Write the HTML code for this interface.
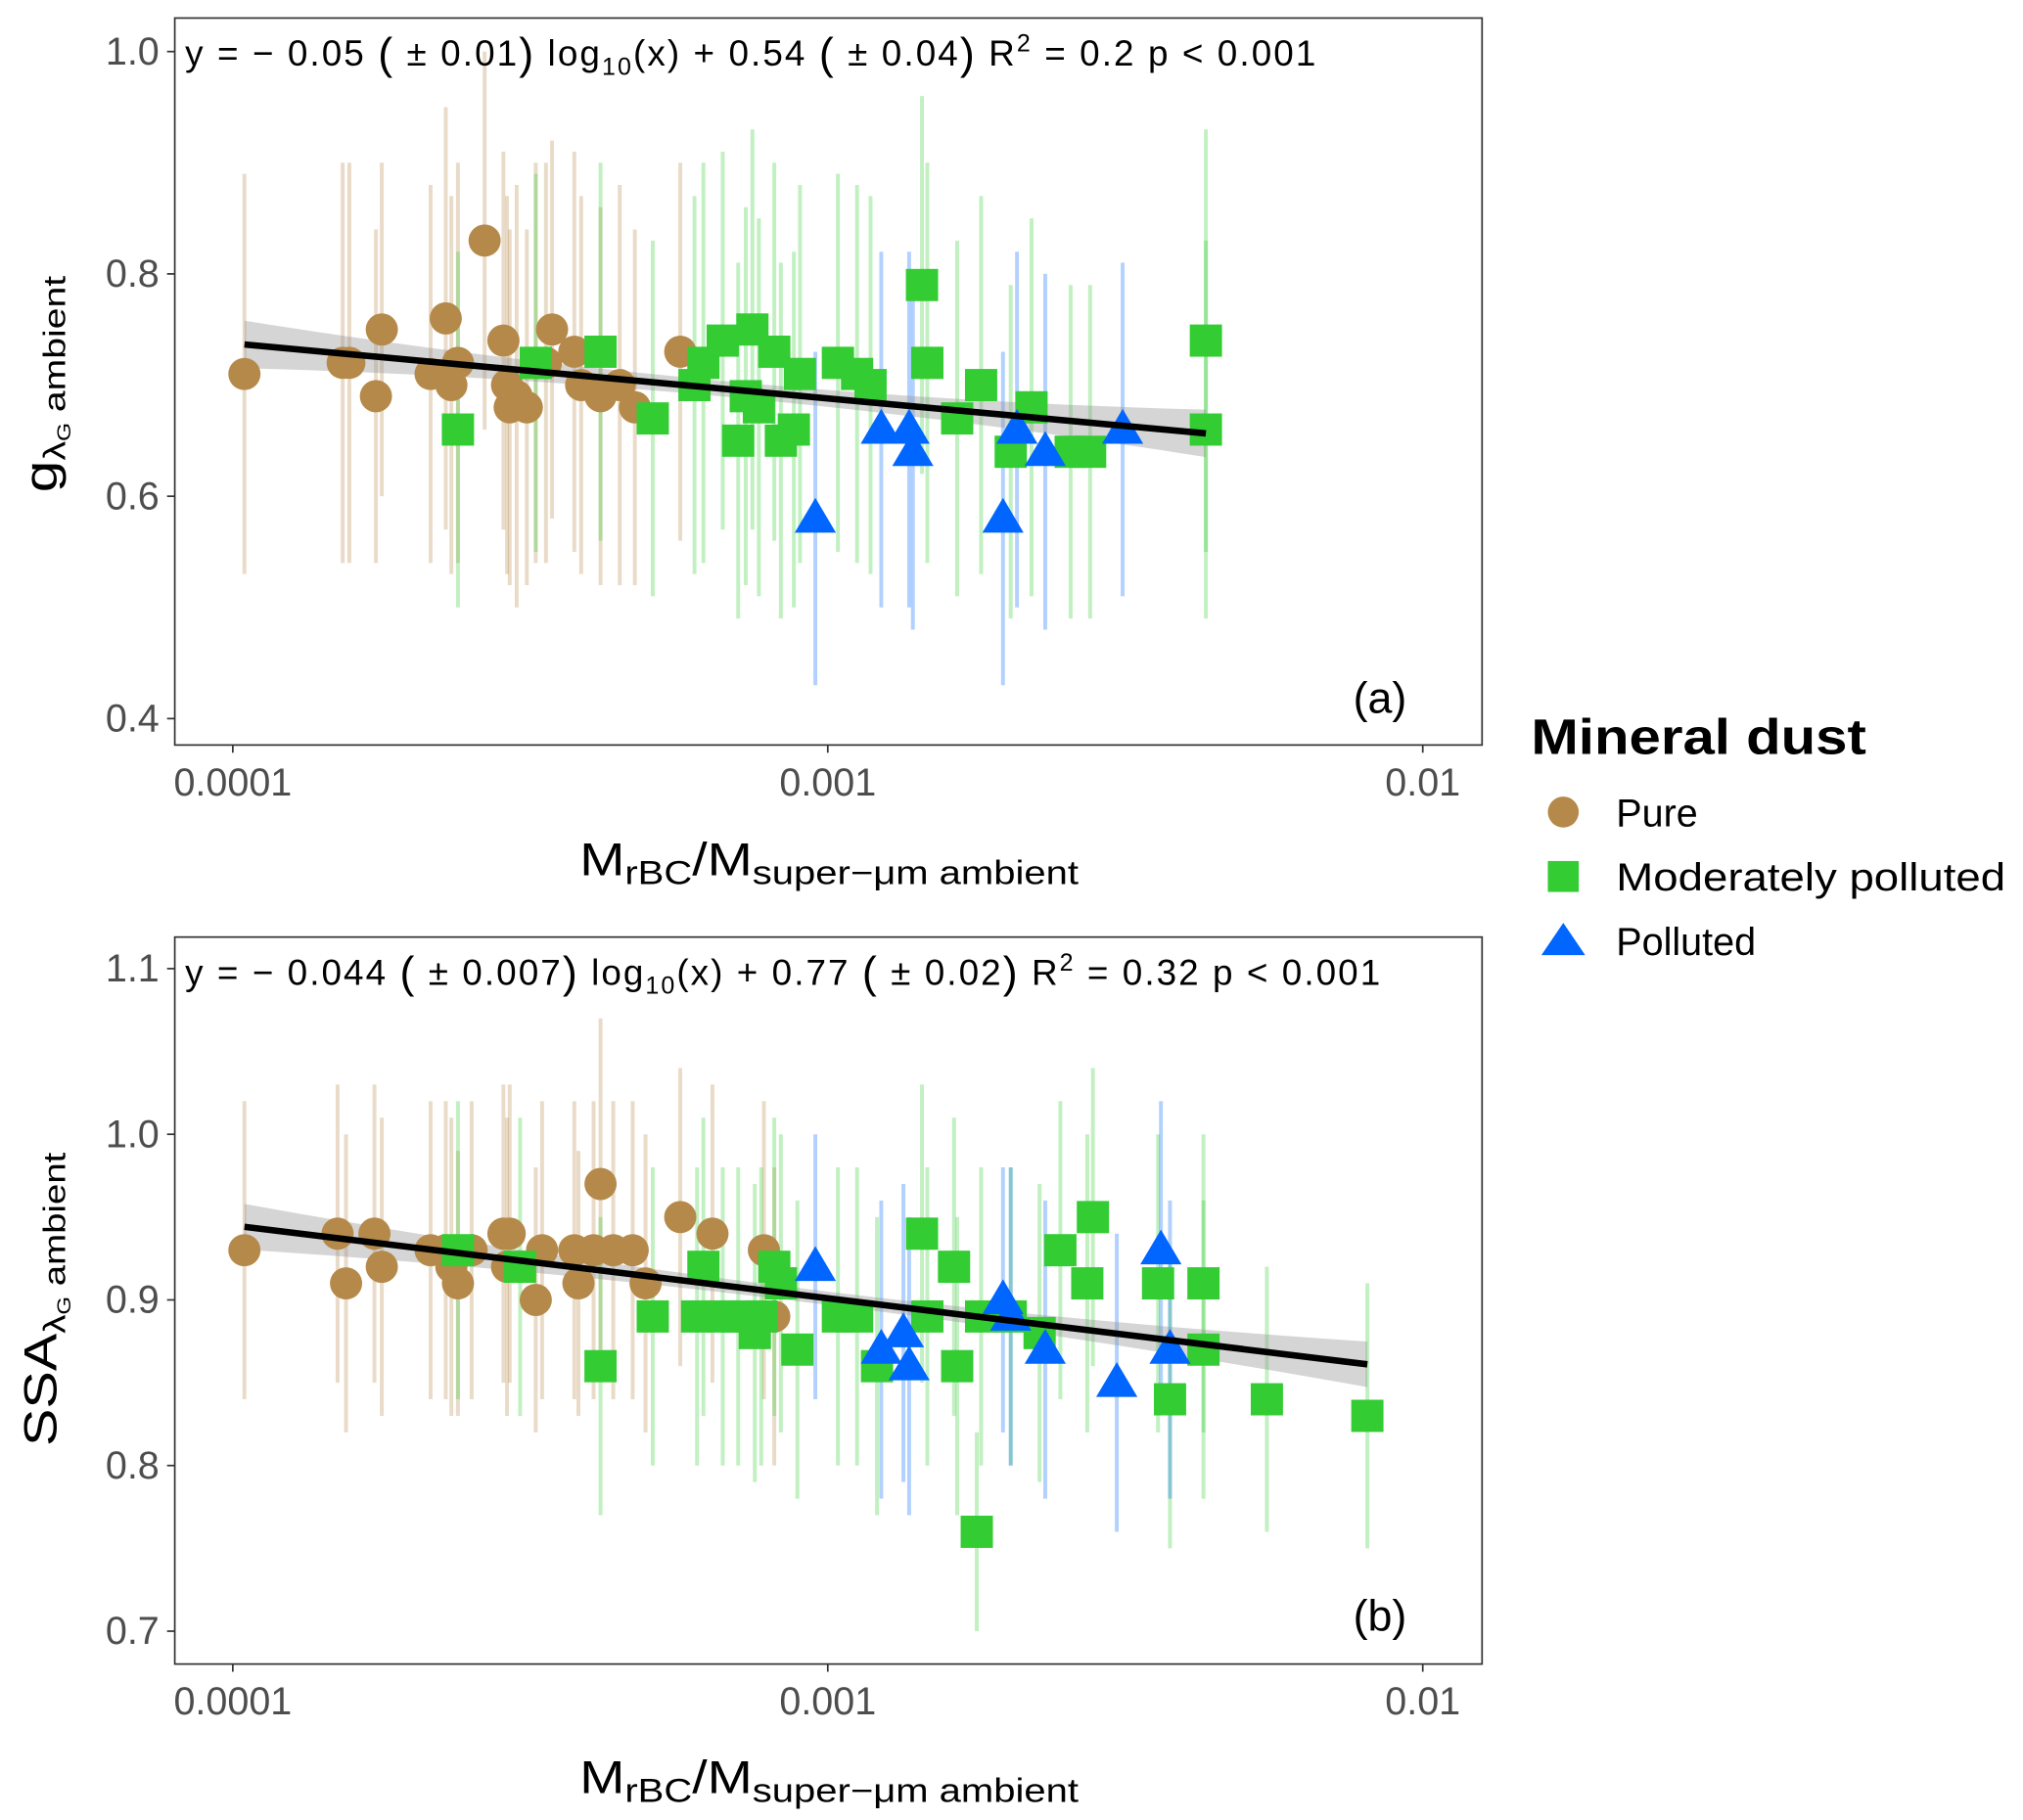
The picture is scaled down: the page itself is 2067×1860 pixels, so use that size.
<!DOCTYPE html>
<html><head><meta charset="utf-8"><style>
html,body{margin:0;padding:0;background:#fff}
svg{display:block}
text{font-family:"Liberation Sans",sans-serif}
</style></head><body>
<svg id="chart" width="2067" height="1860" viewBox="0 0 1568 1412" xmlns="http://www.w3.org/2000/svg">
<g id="panelA"></g>
<g id="panelB"></g>
<g id="legend">
  <text x="1187" y="585" font-size="39" font-weight="bold" textLength="260" lengthAdjust="spacingAndGlyphs">Mineral dust</text>
  <circle cx="1212" cy="630" r="12" fill="#B5894A"/>
  <text x="1253" y="641" font-size="30">Pure</text>
  <rect x="1200" y="668" width="24" height="24" fill="#33CC33"/>
  <text x="1253" y="691" font-size="30" textLength="302" lengthAdjust="spacingAndGlyphs">Moderately polluted</text>
  <polygon points="1212,716 1229,741 1195,741" fill="#0066FF"/>
  <text x="1253" y="741" font-size="30">Polluted</text>
</g>
</svg>
<script>
// Panel (a) data
const aPureX=[1.046e-4,1.53e-4,1.57e-4,1.74e-4,1.78e-4,2.15e-4,2.28e-4,2.33e-4,2.39e-4,2.65e-4,2.85e-4,2.89e-4,2.92e-4,3.0e-4,3.12e-4,3.23e-4,3.36e-4,3.44e-4,3.75e-4,3.85e-4,4.15e-4,4.47e-4,4.74e-4,5.65e-4];
const aPureY=[0.71,0.72,0.72,0.69,0.75,0.71,0.76,0.70,0.72,0.83,0.74,0.70,0.68,0.69,0.68,0.72,0.72,0.75,0.73,0.70,0.69,0.70,0.68,0.73];
const aPureE=[0.18,0.18,0.18,0.15,0.15,0.17,0.19,0.17,0.18,0.17,0.17,0.17,0.16,0.19,0.16,0.18,0.18,0.17,0.18,0.17,0.17,0.18,0.16,0.17];
const aModX=[2.39e-4,3.23e-4,4.15e-4,5.08e-4,5.97e-4,6.18e-4,6.66e-4,7.07e-4,7.28e-4,7.47e-4,7.66e-4,8.13e-4,8.34e-4,8.77e-4,8.98e-4,1.04e-3,1.12e-3,1.18e-3,1.44e-3,1.47e-3,1.65e-3,1.81e-3,2.03e-3,2.20e-3,2.56e-3,2.76e-3,4.32e-3,4.32e-3];
const aModY=[0.66,0.72,0.73,0.67,0.70,0.72,0.74,0.65,0.69,0.75,0.68,0.73,0.65,0.66,0.71,0.72,0.71,0.70,0.79,0.72,0.67,0.70,0.64,0.68,0.64,0.64,0.74,0.66];
const aModE=[0.16,0.17,0.17,0.16,0.17,0.18,0.17,0.16,0.17,0.18,0.17,0.17,0.16,0.16,0.17,0.17,0.17,0.17,0.17,0.18,0.16,0.17,0.15,0.17,0.15,0.15,0.19,0.17];
const aPolX=[9.53e-4,1.23e-3,1.37e-3,1.39e-3,1.97e-3,2.08e-3,2.32e-3,3.13e-3];
const aPolY=[0.58,0.66,0.66,0.64,0.58,0.66,0.64,0.66];
const aPolE=[0.15,0.16,0.16,0.16,0.15,0.16,0.16,0.15];
// Panel (b) data
const bPureX=[1.046e-4,1.50e-4,1.55e-4,1.73e-4,1.78e-4,2.15e-4,2.28e-4,2.33e-4,2.39e-4,2.52e-4,2.85e-4,2.89e-4,2.92e-4,3.23e-4,3.31e-4,3.75e-4,3.81e-4,4.15e-4,4.04e-4,4.36e-4,4.70e-4,4.94e-4,5.65e-4,6.40e-4,7.81e-4,8.13e-4];
const bPureY=[0.93,0.94,0.91,0.94,0.92,0.93,0.93,0.92,0.91,0.93,0.94,0.92,0.94,0.90,0.93,0.93,0.91,0.97,0.93,0.93,0.93,0.91,0.95,0.94,0.93,0.89];
const bPureE=[0.09,0.09,0.09,0.09,0.09,0.09,0.09,0.09,0.08,0.09,0.09,0.09,0.09,0.08,0.09,0.09,0.08,0.10,0.09,0.09,0.09,0.09,0.09,0.09,0.09,0.09];
const bModX=[2.39e-4,3.04e-4,4.15e-4,5.08e-4,6.03e-4,6.18e-4,6.66e-4,7.07e-4,7.54e-4,7.73e-4,8.13e-4,8.34e-4,8.89e-4,1.04e-3,1.12e-3,1.21e-3,1.44e-3,1.47e-3,1.63e-3,1.65e-3,1.78e-3,1.81e-3,2.03e-3,2.27e-3,2.46e-3,2.73e-3,2.79e-3,3.59e-3,3.76e-3,4.28e-3,4.28e-3,5.47e-3,8.07e-3];
const bModY=[0.93,0.92,0.86,0.89,0.89,0.92,0.89,0.89,0.88,0.89,0.92,0.91,0.87,0.89,0.89,0.86,0.94,0.89,0.92,0.86,0.76,0.89,0.89,0.88,0.93,0.91,0.95,0.91,0.84,0.91,0.87,0.84,0.83];
const bModE=[0.09,0.09,0.09,0.09,0.09,0.09,0.09,0.09,0.09,0.09,0.09,0.09,0.09,0.09,0.09,0.09,0.09,0.09,0.09,0.09,0.06,0.09,0.09,0.09,0.09,0.09,0.09,0.09,0.09,0.09,0.09,0.08,0.08];
const bPolX=[9.53e-4,1.23e-3,1.34e-3,1.37e-3,1.97e-3,2.03e-3,2.32e-3,3.06e-3,3.63e-3,3.76e-3];
const bPolY=[0.92,0.87,0.88,0.86,0.90,0.89,0.87,0.85,0.93,0.87];
const bPolE=[0.08,0.09,0.09,0.09,0.08,0.09,0.09,0.09,0.09,0.09];
const xTicks=[0.0001,0.001,0.01];
const xTickLabels=["0.0001","0.001","0.01"];
const aYTicks=[0.4,0.6,0.8,1.0];
const aYTickLabels=["0.4","0.6","0.8","1.0"];
const bYTicks=[0.7,0.8,0.9,1.0,1.1];
const bYTickLabels=["0.7","0.8","0.9","1.0","1.1"];
const aFit=[-0.0495,0.5395];
const bFit=[-0.044,0.769];

const NS="http://www.w3.org/2000/svg";
function mk(parent,tag,attrs){const e=document.createElementNS(NS,tag);for(const k in attrs)e.setAttribute(k,attrs[k]);parent.appendChild(e);return e;}
const xScale=v=>180+(Math.log10(v)+4)*461.5;
function drawPanel(g,cfg){
  const y=cfg.y;
  const box=mk(g,'rect',{x:135,y:cfg.top,width:1014,height:564,fill:'none',stroke:'#333',"stroke-width":1.3});
  
  
  const series=[
    {X:cfg.pX,Y:cfg.pY,E:cfg.pE,c:'rgba(181,137,74,0.3)',name:'pure'},
    {X:cfg.mX,Y:cfg.mY,E:cfg.mE,c:'rgba(51,204,51,0.3)',name:'moderate'},
    {X:cfg.lX,Y:cfg.lY,E:cfg.lE,c:'rgba(0,102,255,0.3)',name:'polluted'}];
  series.forEach(s=>{s.X.forEach((xv,i)=>{
    const l=mk(g,'line',{x1:xScale(xv),x2:xScale(xv),y1:y(s.Y[i]-s.E[i]),y2:y(s.Y[i]+s.E[i]),stroke:s.c,"stroke-width":3});
    
    
  });});
  const lo=Math.log10(cfg.xmin),hi=Math.log10(cfg.xmax),lm=(lo+hi)/2;
  let up=[],dn=[];
  for(let k=0;k<=40;k++){const L=lo+(hi-lo)*k/40;const f=cfg.fit[0]*L+cfg.fit[1];const h=cfg.h0+cfg.h1*(L-lm)*(L-lm);
    const px=180+(L+4)*461.5;up.push(px+','+y(f+h));dn.unshift(px+','+y(f-h));}
  const band=mk(g,'polygon',{points:up.concat(dn).join(' '),fill:'rgba(150,150,150,0.4)'});
  
  
  cfg.pX.forEach((xv,i)=>{const c=mk(g,'circle',{cx:xScale(xv),cy:y(cfg.pY[i]),r:12.5,fill:'#B5894A'});
    
    });
  cfg.mX.forEach((xv,i)=>{const c=mk(g,'rect',{x:xScale(xv)-12.5,y:y(cfg.mY[i])-12.5,width:25,height:25,fill:'#33CC33'});
    
    });
  cfg.lX.forEach((xv,i)=>{const cx=xScale(xv),cy=y(cfg.lY[i]);
    const c=mk(g,'polygon',{points:`${cx},${cy-16} ${cx+16},${cy+11} ${cx-16},${cy+11}`,fill:'#0066FF'});
    
    });
  const fl=mk(g,'line',{x1:xScale(cfg.xmin),y1:y(cfg.fit[0]*lo+cfg.fit[1]),x2:xScale(cfg.xmax),y2:y(cfg.fit[0]*hi+cfg.fit[1]),stroke:'#000',"stroke-width":5});
  
  
  const bot=cfg.top+564;
  xTicks.forEach((t,i)=>{const x=xScale(t);
    mk(g,'line',{x1:x,x2:x,y1:bot,y2:bot+6,stroke:'#333',"stroke-width":1.3});
    const tx=mk(g,'text',{x:x,y:bot+39,"font-size":30,fill:'#4d4d4d',"text-anchor":'middle'});tx.textContent=xTickLabels[i];
    
    });
  cfg.yt.forEach((t,i)=>{const yy=y(t);
    mk(g,'line',{x1:129,x2:135,y1:yy,y2:yy,stroke:'#333',"stroke-width":1.3});
    const tx=mk(g,'text',{x:123,y:yy+10,"font-size":30,fill:'#4d4d4d',"text-anchor":'end'});tx.textContent=cfg.ytl[i];
    
    });
}
const gA=document.getElementById('panelA'),gB=document.getElementById('panelB');
drawPanel(gA,{top:14,y:v=>40+(1.0-v)*862.5,pX:aPureX,pY:aPureY,pE:aPureE,mX:aModX,mY:aModY,mE:aModE,lX:aPolX,lY:aPolY,lE:aPolE,
  fit:aFit,xmin:1.046e-4,xmax:4.32e-3,h0:0.007,h1:0.022,yt:aYTicks,ytl:aYTickLabels});
drawPanel(gB,{top:727,y:v=>880+(1.0-v)*1285,pX:bPureX,pY:bPureY,pE:bPureE,mX:bModX,mY:bModY,mE:bModE,lX:bPolX,lY:bPolY,lE:bPolE,
  fit:bFit,xmin:1.046e-4,xmax:8.07e-3,h0:0.004,h1:0.011,yt:bYTicks,ytl:bYTickLabels});
</script>
<script>
const s=document.getElementById('chart');
s.insertAdjacentHTML('beforeend',`
<text x="143" y="51" font-size="28" textLength="877" lengthAdjust="spacing">y = − 0.05 <tspan font-size="34" dy="2">(</tspan><tspan dy="-2"> ± 0.01</tspan><tspan font-size="34" dy="2">)</tspan><tspan dy="-2"> log</tspan><tspan font-size="19" dy="7">10</tspan><tspan dy="-7">(x) + 0.54 </tspan><tspan font-size="34" dy="2">(</tspan><tspan dy="-2"> ± 0.04</tspan><tspan font-size="34" dy="2">)</tspan><tspan dy="-2"> R</tspan><tspan font-size="19" dy="-11">2</tspan><tspan dy="11"> = 0.2 p &lt; 0.001</tspan></text>
<text x="1049" y="553" font-size="34">(a)</text>
<text x="449" y="679" font-size="36" textLength="387" lengthAdjust="spacingAndGlyphs">M<tspan font-size="26" dy="7">rBC</tspan><tspan dy="-7">/M</tspan><tspan font-size="26" dy="7">super−μm ambient</tspan></text>
<text transform="translate(43,382) rotate(-90)" font-size="36" textLength="168" lengthAdjust="spacingAndGlyphs">g<tspan font-size="24" dy="7">λ</tspan><tspan font-size="15" dy="4">G</tspan><tspan font-size="24" dy="-4"> ambient</tspan></text>
<text x="143" y="764" font-size="28" textLength="927" lengthAdjust="spacing">y = − 0.044 <tspan font-size="34" dy="2">(</tspan><tspan dy="-2"> ± 0.007</tspan><tspan font-size="34" dy="2">)</tspan><tspan dy="-2"> log</tspan><tspan font-size="19" dy="7">10</tspan><tspan dy="-7">(x) + 0.77 </tspan><tspan font-size="34" dy="2">(</tspan><tspan dy="-2"> ± 0.02</tspan><tspan font-size="34" dy="2">)</tspan><tspan dy="-2"> R</tspan><tspan font-size="19" dy="-11">2</tspan><tspan dy="11"> = 0.32 p &lt; 0.001</tspan></text>
<text x="1049" y="1265" font-size="34">(b)</text>
<text x="449" y="1391" font-size="36" textLength="387" lengthAdjust="spacingAndGlyphs">M<tspan font-size="26" dy="7">rBC</tspan><tspan dy="-7">/M</tspan><tspan font-size="26" dy="7">super−μm ambient</tspan></text>
<text transform="translate(43,1122) rotate(-90)" font-size="36" textLength="228" lengthAdjust="spacingAndGlyphs">SSA<tspan font-size="24" dy="7">λ</tspan><tspan font-size="15" dy="4">G</tspan><tspan font-size="24" dy="-4"> ambient</tspan></text>`);
</script>
</body></html>
